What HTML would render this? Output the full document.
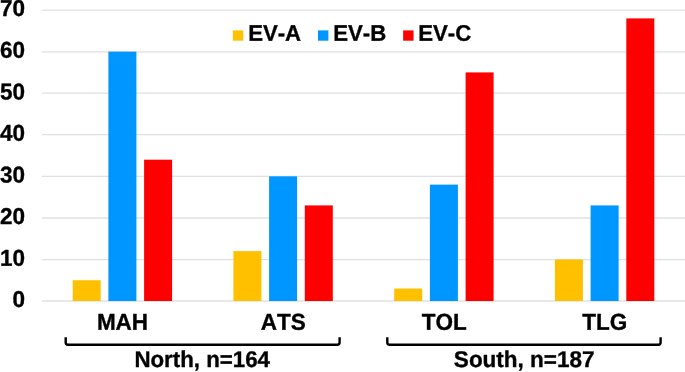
<!DOCTYPE html>
<html><head><meta charset="utf-8"><title>Chart</title>
<style>
html,body{margin:0;padding:0;background:#fff;}
body{width:685px;height:372px;overflow:hidden;}
svg{display:block;will-change:transform;}
.t{font-family:"Liberation Sans",sans-serif;font-weight:bold;fill:#000;stroke:#000;stroke-width:0.35px;stroke-linejoin:round;font-kerning:none;text-rendering:geometricPrecision;}
</style></head><body>
<svg width="685" height="372" viewBox="0 0 685 372">
<rect width="685" height="372" fill="#fff"/>
<line x1="42" x2="685" y1="301.00" y2="301.00" stroke="#E0E0E0" stroke-width="1.3"/>
<line x1="42" x2="685" y1="259.56" y2="259.56" stroke="#E0E0E0" stroke-width="1.3"/>
<line x1="42" x2="685" y1="218.00" y2="218.00" stroke="#E0E0E0" stroke-width="1.3"/>
<line x1="42" x2="685" y1="176.32" y2="176.32" stroke="#E0E0E0" stroke-width="1.3"/>
<line x1="42" x2="685" y1="134.68" y2="134.68" stroke="#E0E0E0" stroke-width="1.3"/>
<line x1="42" x2="685" y1="93.20" y2="93.20" stroke="#E0E0E0" stroke-width="1.3"/>
<line x1="42" x2="685" y1="51.84" y2="51.84" stroke="#E0E0E0" stroke-width="1.3"/>
<line x1="42" x2="685" y1="10.18" y2="10.18" stroke="#E0E0E0" stroke-width="1.3"/>
<rect x="72.70" y="280.22" width="28.0" height="20.78" fill="#FFC000"/>
<rect x="108.40" y="51.64" width="28.0" height="249.36" fill="#0096FF"/>
<rect x="144.10" y="159.70" width="28.0" height="141.30" fill="#FF0000"/>
<rect x="233.40" y="251.13" width="28.0" height="49.87" fill="#FFC000"/>
<rect x="269.10" y="176.32" width="28.0" height="124.68" fill="#0096FF"/>
<rect x="304.80" y="205.41" width="28.0" height="95.59" fill="#FF0000"/>
<rect x="394.20" y="288.53" width="28.0" height="12.47" fill="#FFC000"/>
<rect x="429.90" y="184.63" width="28.0" height="116.37" fill="#0096FF"/>
<rect x="465.60" y="72.42" width="28.0" height="228.58" fill="#FF0000"/>
<rect x="554.90" y="259.44" width="28.0" height="41.56" fill="#FFC000"/>
<rect x="590.60" y="205.41" width="28.0" height="95.59" fill="#0096FF"/>
<rect x="626.30" y="18.39" width="28.0" height="282.61" fill="#FF0000"/>
<text transform="translate(25.00,307.02) scale(1.0,1.02) rotate(0.03)" text-anchor="end" font-size="22.5" class="t">0</text>
<text transform="translate(25.00,265.67) scale(1.0,1.02) rotate(0.03)" text-anchor="end" font-size="22.5" class="t">10</text>
<text transform="translate(25.00,224.08) scale(1.0,1.02) rotate(0.03)" text-anchor="end" font-size="22.5" class="t">20</text>
<text transform="translate(25.00,182.62) scale(1.0,1.02) rotate(0.03)" text-anchor="end" font-size="22.5" class="t">30</text>
<text transform="translate(25.00,140.81) scale(1.0,1.02) rotate(0.03)" text-anchor="end" font-size="22.5" class="t">40</text>
<text transform="translate(25.00,99.45) scale(1.0,1.02) rotate(0.03)" text-anchor="end" font-size="22.5" class="t">50</text>
<text transform="translate(25.00,57.74) scale(1.0,1.02) rotate(0.03)" text-anchor="end" font-size="22.5" class="t">60</text>
<text transform="translate(25.00,16.12) scale(1.0,1.02) rotate(0.03)" text-anchor="end" font-size="22.5" class="t">70</text>
<rect x="232.85" y="30.4" width="10.4" height="10.3" fill="#FFC000"/>
<text transform="translate(248.15,40.70) scale(0.985,1.0) rotate(0.03)" text-anchor="start" font-size="22.5" class="t">EV-A</text>
<rect x="318.0" y="30.4" width="10.4" height="10.3" fill="#0096FF"/>
<text transform="translate(333.20,40.70) scale(0.985,1.0) rotate(0.03)" text-anchor="start" font-size="22.5" class="t">EV-B</text>
<rect x="403.15" y="30.4" width="10.4" height="10.3" fill="#FF0000"/>
<text transform="translate(418.25,40.70) scale(0.985,1.0) rotate(0.03)" text-anchor="start" font-size="22.5" class="t">EV-C</text>
<text transform="translate(122.50,329.80) scale(1.0,1.02) rotate(0.03)" text-anchor="middle" font-size="22.5" class="t">MAH</text>
<text transform="translate(283.30,329.80) scale(1.0,1.02) rotate(0.03)" text-anchor="middle" font-size="22.5" class="t">ATS</text>
<text transform="translate(444.30,329.80) scale(1.0,1.02) rotate(0.03)" text-anchor="middle" font-size="22.5" class="t">TOL</text>
<text transform="translate(604.85,329.80) scale(1.0,1.02) rotate(0.03)" text-anchor="middle" font-size="22.5" class="t">TLG</text>
<path d="M65.7,337.3 V342.6 Q65.7,344.8 67.9,344.8 H337.4 Q339.6,344.8 339.6,342.6 V337.3" fill="none" stroke="#000" stroke-width="2.4"/>
<path d="M387.3,337.3 V342.6 Q387.3,344.8 389.5,344.8 H658.4 Q660.6,344.8 660.6,342.6 V337.3" fill="none" stroke="#000" stroke-width="2.4"/>
<text transform="translate(202.20,367.05) scale(0.99,1.01) rotate(0.03)" text-anchor="middle" font-size="22.5" class="t">North, n=164</text>
<text transform="translate(524.20,367.05) scale(1.0,1.01) rotate(0.03)" text-anchor="middle" font-size="22.5" class="t">South, n=187</text>
</svg>
</body></html>
